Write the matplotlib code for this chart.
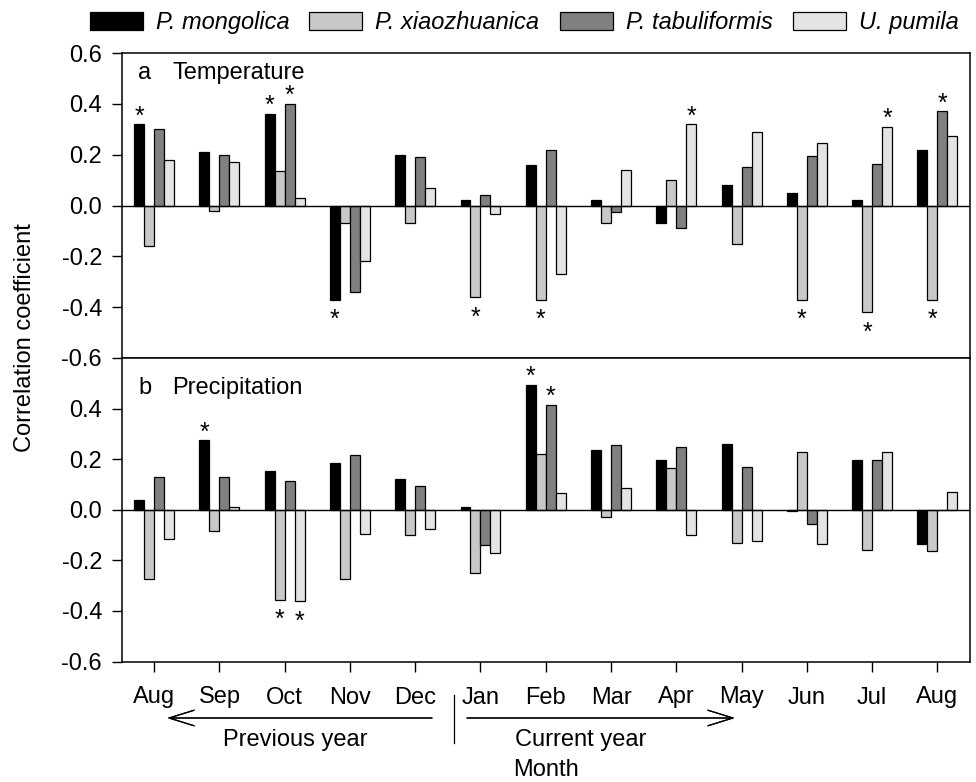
import numpy as np
import matplotlib
matplotlib.use('Agg')
import matplotlib.pyplot as plt
from matplotlib.lines import Line2D

plt.rcParams['font.family'] = ['Liberation Sans', 'DejaVu Sans']

# Data
months = ['Aug', 'Sep', 'Oct', 'Nov', 'Dec', 'Jan', 'Feb', 'Mar', 'Apr', 'May', 'Jun', 'Jul', 'Aug']
species = ['P. mongolica', 'P. xiaozhuanica', 'P. tabuliformis', 'U. pumila']

temp_mongolica = [0.32, 0.21, 0.36, -0.37, 0.20, 0.02, 0.16, 0.02, -0.07, 0.08, 0.05, 0.02, 0.22]
temp_xiaozhuanica = [-0.16, -0.02, 0.135, -0.07, -0.07, -0.36, -0.37, -0.07, 0.10, -0.15, -0.37, -0.42, -0.37]
temp_tabuliformis = [0.30, 0.20, 0.40, -0.34, 0.19, 0.04, 0.22, -0.025, -0.09, 0.15, 0.195, 0.165, 0.37]
temp_pumila = [0.18, 0.17, 0.03, -0.22, 0.07, -0.035, -0.27, 0.14, 0.32, 0.29, 0.245, 0.31, 0.275]

prec_mongolica = [0.04, 0.275, 0.155, 0.185, 0.12, 0.01, 0.495, 0.235, 0.195, 0.26, -0.005, 0.195, -0.135]
prec_xiaozhuanica = [-0.275, -0.085, -0.355, -0.275, -0.10, -0.25, 0.22, -0.03, 0.165, -0.13, 0.23, -0.16, -0.165]
prec_tabuliformis = [0.13, 0.13, 0.115, 0.215, 0.095, -0.14, 0.415, 0.255, 0.25, 0.17, -0.055, 0.195, 0.0]
prec_pumila = [-0.115, 0.01, -0.36, -0.095, -0.075, -0.17, 0.065, 0.085, -0.10, -0.125, -0.135, 0.23, 0.07]

# significant correlations (month index, species index)
temp_stars = [(0, 0), (2, 0), (2, 2), (3, 0), (5, 1), (6, 1), (8, 3), (10, 1), (11, 1), (11, 3), (12, 2), (12, 1)]
prec_stars = [(1, 0), (2, 1), (2, 3), (6, 0), (6, 2)]

colors = ['#000000', '#c8c8c8', '#808080', '#e4e4e4']
W, H = 976, 782

fig = plt.figure(figsize=(W / 100, H / 100), dpi=100)
ax1 = fig.add_axes([121.5 / W, 1 - 358 / H, 848.5 / W, 305 / H])
ax2 = fig.add_axes([121.5 / W, 1 - 661.5 / H, 848.5 / W, 303.5 / H])

x = np.arange(len(months))
bw = 0.153
fs = 17


def draw_panel(ax, series, stars, title):
    for i, vals in enumerate(series):
        ax.bar(x + (i - 1.5) * bw, vals, bw, color=colors[i], edgecolor='black',
               linewidth=0.9, label=species[i], zorder=2)
    ax.axhline(0, color='black', lw=1.0, zorder=3)
    for m, s in stars:
        v = series[s][m]
        off = 0.5 if v > 0 else -20
        ax.annotate('*', (m + (s - 1.5) * bw, v), xytext=(0, off), textcoords='offset points',
                    ha='center', va='baseline', fontsize=18)
    ax.set_xlim(-0.5, 12.5)
    ax.set_ylim(-0.6, 0.6)
    ax.set_xticks(x)
    ax.tick_params(axis='both', direction='out', length=7, width=1, labelsize=fs)
    ax.tick_params(axis='y', pad=7)
    for sp in ax.spines.values():
        sp.set_linewidth(1.1)
    ax.text(0.02, title[2], title[0], transform=ax.transAxes, fontsize=17, va='center')
    ax.text(0.06, title[2], title[1], transform=ax.transAxes, fontsize=17, va='center')


draw_panel(ax1, [temp_mongolica, temp_xiaozhuanica, temp_tabuliformis, temp_pumila],
           temp_stars, ('a', 'Temperature', 0.935))
draw_panel(ax2, [prec_mongolica, prec_xiaozhuanica, prec_tabuliformis, prec_pumila],
           prec_stars, ('b', 'Precipitation', 0.90))

ax1.set_yticks([0.6, 0.4, 0.2, 0.0, -0.2, -0.4, -0.6])
ax1.set_yticklabels(['0.6', '0.4', '0.2', '0.0', '-0.2', '-0.4', '-0.6'])
ax1.tick_params(axis='x', labelbottom=False)
ax2.set_yticks([0.4, 0.2, 0.0, -0.2, -0.4, -0.6])
ax2.set_yticklabels(['0.4', '0.2', '0.0', '-0.2', '-0.4', '-0.6'])
ax2.set_xticklabels(months)
ax2.tick_params(axis='x', pad=11)

fig.text(25 / W, 1 - 337.5 / H, 'Correlation coefficient', rotation=90,
         ha='center', va='center', fontsize=fs)

# legend
handles, labels = ax1.get_legend_handles_labels()
fig.legend(handles, labels, loc='center', bbox_to_anchor=(524 / W, 1 - 22.5 / H), ncol=4,
           frameon=False, prop={'style': 'italic', 'size': fs}, handlelength=2.25,
           handleheight=0.8, handletextpad=0.55, columnspacing=0.85, borderpad=0)

# year arrows below the month labels
def px(xp, yp):
    return (xp / W, 1 - yp / H)


arrow = dict(arrowstyle='->, head_length=0.9, head_width=0.28', lw=0.9, color='black',
             mutation_scale=20, shrinkA=0, shrinkB=0)
fig.add_artist(plt.annotate('', xy=px(167, 718), xytext=px(432, 718),
                            xycoords='figure fraction', arrowprops=arrow))
fig.add_artist(plt.annotate('', xy=px(735, 718), xytext=px(467, 718),
                            xycoords='figure fraction', arrowprops=arrow))
fig.add_artist(Line2D([454 / W, 454 / W], [1 - 695 / H, 1 - 743 / H], color='black', lw=0.9,
                      transform=fig.transFigure))
fig.text(295 / W, 1 - 740 / H, 'Previous year', ha='center', va='center', fontsize=fs)
fig.text(581 / W, 1 - 740 / H, 'Current year', ha='center', va='center', fontsize=fs)
fig.text(546 / W, 1 - 770 / H, 'Month', ha='center', va='center', fontsize=fs)

fig.savefig('out.png', dpi=100)
